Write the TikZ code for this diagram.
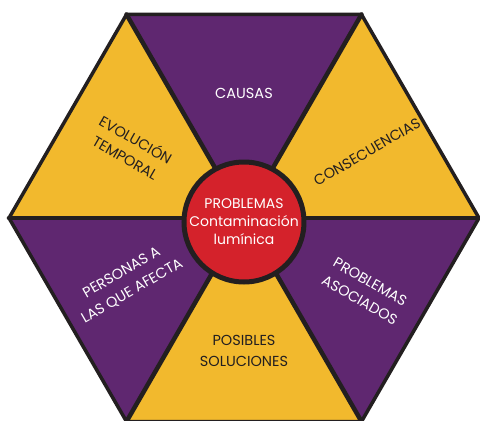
\documentclass[tikz,border=0pt]{standalone}
\usepackage{fontspec}
\setmainfont{Poppins}
\definecolor{hexpurple}{HTML}{5F2770}
\definecolor{hexyellow}{HTML}{F2B92D}
\definecolor{hexred}{HTML}{D4222B}
\definecolor{hexblack}{HTML}{231F20}
\begin{document}
\begin{tikzpicture}[x=1pt, y=1pt]
  % Define styles
  \tikzstyle{spoke} = [draw=hexblack, line width=4.5pt, line cap=round]
  \tikzstyle{rim} = [draw=hexblack, line width=3.5pt, line join=miter]
  \tikzstyle{label} = [align=center, font=\fontsize{14.5}{21}\selectfont]
  \tikzstyle{hub} = [circle, draw=hexblack, fill=hexred, line width=5pt, minimum size=120pt, inner sep=0pt, text=white, align=center, font=\fontsize{14}{18}\selectfont]

  \useasboundingbox (-244,-203) rectangle (236,218);

  % Fill the six sectors
  \foreach \a/\col in {0/hexyellow, 60/hexpurple, 120/hexyellow, 180/hexpurple, 240/hexyellow, 300/hexpurple}
    \fill[\col] (0,0) -- (\a:235) -- (\a+60:235) -- cycle;

  % Draw spokes and rim
  \foreach \a in {0,60,...,300}
    \path [spoke] (0,0) -- (\a:235);
  \path [rim] (0:235) -- (60:235) -- (120:235) -- (180:235) -- (240:235) -- (300:235) -- cycle;

  % Place labels
  \node [hub] (prob) at (0,-4) {PROBLEMAS\\Contaminación\\lumínica};
  \node [label, text=white] (causas) at (0,125) {CAUSAS};
  \node [label, text=hexblack, rotate=-30] (evol) at (-113,70) {EVOLUCIÓN\\TEMPORAL};
  \node [label, text=hexblack, rotate=30] (consec) at (123,66) {CONSECUENCIAS};
  \node [label, text=white, rotate=30] (personas) at (-117,-64) {PERSONAS A\\LAS QUE AFECTA};
  \node [label, text=white, rotate=-30] (asoc) at (121,-73) {PROBLEMAS\\ASOCIADOS};
  \node [label, text=hexblack] (soluc) at (0,-133) {POSIBLES\\SOLUCIONES};
\end{tikzpicture}
\end{document}
